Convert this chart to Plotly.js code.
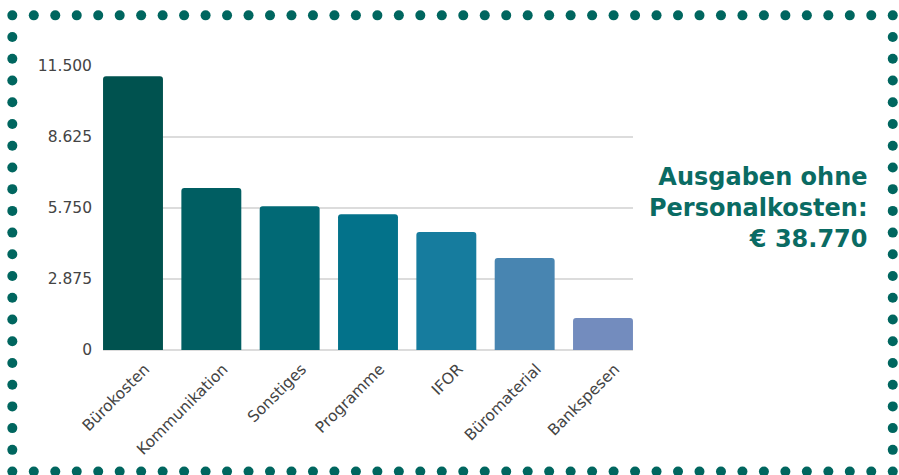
<!DOCTYPE html>
<html>
<head>
<meta charset="utf-8">
<script src="https://cdn.plot.ly/plotly-3.0.1.min.js"></script>
<style>
  html, body { margin: 0; padding: 0; background: #ffffff; }
  #chart { width: 899px; height: 475px; }
</style>
</head>
<body>
<div id="chart"></div>
<script>
// ---- data ----
const categories = ["Bürokosten", "Kommunikation", "Sonstiges", "Programme", "IFOR", "Büromaterial", "Bankspesen"];
const values = [11080, 6560, 5820, 5500, 4780, 3730, 1300];
const barColors = ["#00524f", "#005e62", "#016975", "#03728a", "#167c9e", "#4885b1", "#738cbe"];
const yTickVals = [0, 2875, 5750, 8625, 11500];
const noteLines = ["Ausgaben ohne", "Personalkosten:", "€ 38.770"];

// ---- geometry ----
const W = 899, H = 475;
const M = { l: 102.5, r: 265.8, t: 65.7, b: 125.0 };
const PW = W - M.l - M.r, PH = H - M.t - M.b;
const px2x = p => (p - M.l) / PW;
const py2y = p => (H - M.b - p) / PH;

// dotted border as pixel-sized circle shapes
const dotColor = "#00665f";
const shapes = [];
function dot(px, py) {
  shapes.push({
    type: "circle", xref: "paper", yref: "paper",
    xsizemode: "pixel", ysizemode: "pixel",
    xanchor: px2x(px), yanchor: py2y(py),
    x0: -5, x1: 5, y0: -5, y1: 5,
    fillcolor: dotColor, line: { width: 0 }, layer: "above"
  });
}
const xL = 11.7, xR = 893.3, yT = 15, yB = 471.7;
const nH = 41, nV = 21;
for (let i = 0; i <= nH; i++) {
  const x = xL + (xR - xL) * i / nH;
  dot(x, yT); dot(x, yB);
}
for (let j = 1; j < nV; j++) {
  const y = yT + (yB - yT) * j / nV;
  dot(xL, y); dot(xR, y);
}

const trace = {
  type: "bar",
  x: categories,
  y: values,
  marker: { color: barColors, cornerradius: 3, line: { width: 0 } },
  hoverinfo: "x+y"
};

const layout = {
  width: W, height: H,
  margin: M,
  paper_bgcolor: "#ffffff",
  plot_bgcolor: "#ffffff",
  separators: ",.",
  showlegend: false,
  bargap: 0.235,
  font: { family: "DejaVu Sans, sans-serif", size: 15, color: "#444444" },
  xaxis: {
    type: "category",
    range: [-0.383, 6.383],
    tickangle: -45,
    showgrid: false,
    showline: false,
    zeroline: false,
    ticks: "",
    ticklabelshift: 12,
    ticklabelstandoff: 6,
    tickfont: { family: "DejaVu Sans, sans-serif", size: 15.5, color: "#444444" },
    fixedrange: true
  },
  yaxis: {
    range: [0, 11500],
    tickvals: yTickVals,
    tickformat: ",d",
    showgrid: true,
    gridcolor: "#dcdcdc",
    gridwidth: 1.5,
    zeroline: true,
    zerolinecolor: "#dcdcdc",
    zerolinewidth: 1.5,
    showline: false,
    ticks: "",
    ticklabelstandoff: 10,
    tickfont: { family: "DejaVu Sans, sans-serif", size: 15.5, color: "#444444" },
    fixedrange: true
  },
  shapes: shapes,
  annotations: [{
    xref: "paper", yref: "paper",
    x: px2x(871), y: py2y(208),
    xanchor: "right", yanchor: "middle",
    align: "right",
    showarrow: false,
    text: noteLines.join("<br>"),
    font: { family: "DejaVu Sans, sans-serif", size: 24, color: "#0a6b63", weight: "bold" }
  }]
};

Plotly.newPlot("chart", [trace], layout, { displayModeBar: false, staticPlot: true });
</script>
</body>
</html>
